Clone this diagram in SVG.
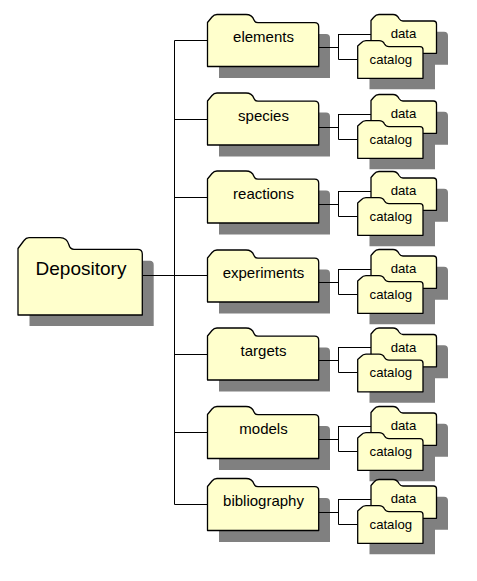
<svg xmlns="http://www.w3.org/2000/svg" xmlns:xlink="http://www.w3.org/1999/xlink" width="477" height="581" viewBox="0 0 477 581">
<style>
.f{fill:#ffffcc;stroke:#000;stroke-width:1.3;stroke-linejoin:round}
.s{fill:#808080}
.c{fill:none;stroke:#000;stroke-width:1}
text{font-family:"Liberation Sans",Arial,sans-serif;fill:#000;text-anchor:middle}
.m{font-size:15px}.d{font-size:13.2px}.r{font-size:19px}
</style>
<defs>
<path id="mS" class="s" d="M219 34H326a4 4 0 0 1 4 4V78H219Z"/>
<path id="mF" class="f" d="M207.500 66.500V22.500L212 17Q214 14.500 217 14.500H246Q252 14.500 254 20Q255 22.700 258 22.700H314.700Q318.700 22.700 318.700 26.700V66.500Z"/>
<g id="sub">
<path class="s" d="M383 31.700H444a4 4 0 0 1 4 4V64.700H435V89.300H369.500V64H383Z"/>
<path class="f" d="M371 53.300V20.500L374 17Q376 14.500 379 14.500H393Q397 14.500 399 18.500Q400.500 21 403 21H433.500Q436.500 21 436.500 24V53.300Z"/>
<path class="f" d="M357.700 78.300V46L361 43Q363 40.700 366 40.700H379Q383 40.700 384.500 44Q386 46.700 389 46.700H420Q423 46.700 423 49.700V78.300Z"/>
</g>
<path id="wires" class="c" d="M319 47.500H338.500M338.500 34V59.500M338.500 34.500H371M338.500 59.500H358"/>
</defs>
<g id="depository">
<path class="s" d="M29.500 260.700H150a4 4 0 0 1 3.700 4V326H29.500Z"/>
<path class="f" d="M18 315V248.500L24 240.500Q26 237.700 29 237.700H60Q67 237.700 69 245Q70 249.300 74 249.300H137.500Q142.300 249.300 142.300 254V315Z"/>
<text class="r" x="81" y="275">Depository</text>
</g>
<g id="elements"><use href="#mS"/><use href="#mF"/><text class="m" x="263.500" y="41.500">elements</text></g>
<g id="elements-sub"><use href="#sub"/><text class="d" x="403.500" y="38">data</text><text class="d" x="390.800" y="64">catalog</text></g>
<g id="species" transform="translate(0 78.500)"><use href="#mS"/><use href="#mF"/><text class="m" x="263.500" y="42.500">species</text></g>
<g id="species-sub" transform="translate(0 80)"><use href="#sub"/><text class="d" x="403.500" y="38">data</text><text class="d" x="390.800" y="64">catalog</text></g>
<g id="reactions" transform="translate(0 156.500)"><use href="#mS"/><use href="#mF"/><text class="m" x="263.500" y="42.500">reactions</text></g>
<g id="reactions-sub" transform="translate(0 157)"><use href="#sub"/><text class="d" x="403.500" y="38">data</text><text class="d" x="390.800" y="64">catalog</text></g>
<g id="experiments" transform="translate(0 235.500)"><use href="#mS"/><use href="#mF"/><text class="m" x="263.500" y="42.500">experiments</text></g>
<g id="experiments-sub" transform="translate(0 235)"><use href="#sub"/><text class="d" x="403.500" y="38">data</text><text class="d" x="390.800" y="64">catalog</text></g>
<g id="targets" transform="translate(0 313.500)"><use href="#mS"/><use href="#mF"/><text class="m" x="263.500" y="42.500">targets</text></g>
<g id="targets-sub" transform="translate(0 313.500)"><use href="#sub"/><text class="d" x="403.500" y="38">data</text><text class="d" x="390.800" y="63.500">catalog</text></g>
<g id="models" transform="translate(0 392)"><use href="#mS"/><use href="#mF"/><text class="m" x="263.500" y="41.500">models</text></g>
<g id="models-sub" transform="translate(0 392)"><use href="#sub"/><text class="d" x="403.500" y="38">data</text><text class="d" x="390.800" y="64">catalog</text></g>
<g id="bibliography" transform="translate(0 464)"><use href="#mS"/><use href="#mF"/><text class="m" x="263.500" y="41.500">bibliography</text></g>
<g id="bibliography-sub" transform="translate(0 465)"><use href="#sub"/><text class="d" x="403.500" y="38">data</text><text class="d" x="390.800" y="64">catalog</text></g>
<g id="connectors">
<path class="c" d="M142.500 275.500H207.500M174.500 40.500V504.500M174.500 40.500H207.500M174.500 119.500H207.500M174.500 197.500H207.500M174.500 354.500H207.500M174.500 432.500H207.500M174.500 504.500H207.500"/>
<use href="#wires"/>
<use href="#wires" y="80"/>
<use href="#wires" y="157"/>
<use href="#wires" y="235"/>
<use href="#wires" y="313"/>
<use href="#wires" y="392"/>
<use href="#wires" y="465"/>
</g>
</svg>
